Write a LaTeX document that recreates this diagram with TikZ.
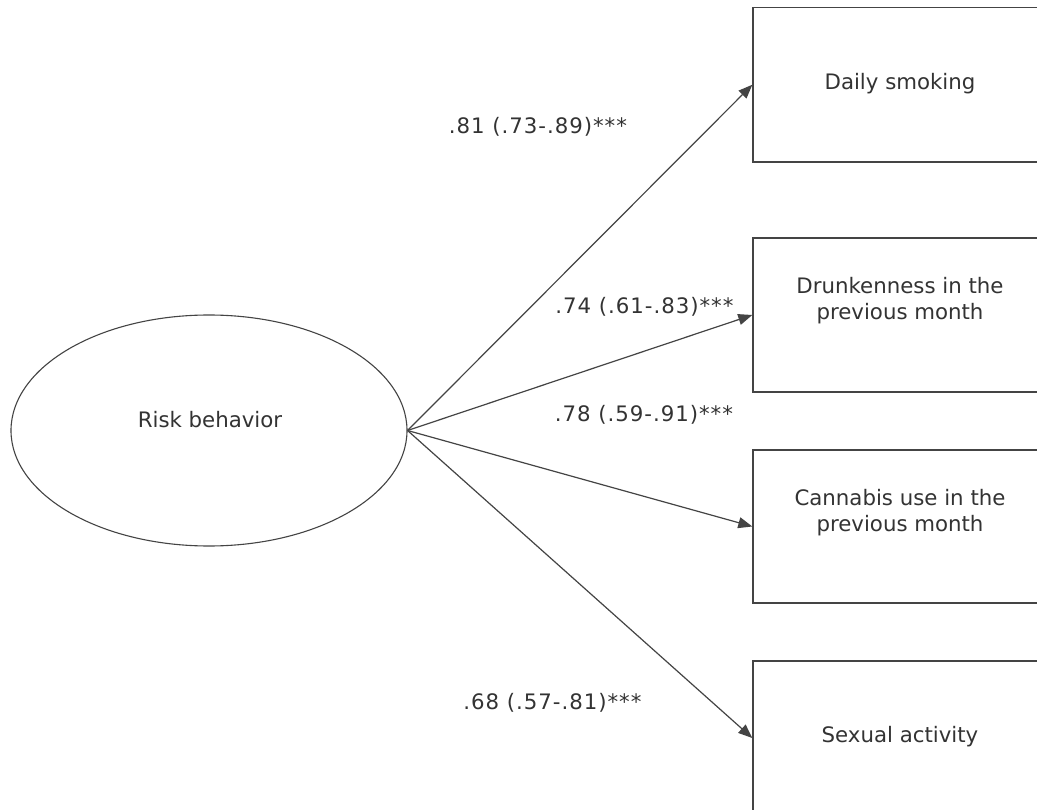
\documentclass[tikz,border=0pt]{standalone}
\usepackage{fontspec}
\setmainfont{DejaVu Sans}
\usetikzlibrary{arrows.meta,shapes.geometric}
\definecolor{ink}{HTML}{333333}
\definecolor{edgec}{HTML}{444444}
\begin{document}
\begin{tikzpicture}[x=1pt,y=-1pt,
  every node/.style={font=\fontsize{21.3}{26}\selectfont, text=ink},
  latent/.style={draw=edgec, ellipse, line width=1.1pt, minimum width=396pt, minimum height=231pt, inner sep=0pt},
  obs/.style={draw=edgec, rectangle, line width=1.4pt, minimum width=294pt, inner sep=0pt},
  txt/.style={align=center, inner sep=0pt, anchor=base},
  coef/.style={inner sep=0pt, anchor=base, font=\fontsize{21.3}{26}\selectfont\addfontfeature{LetterSpace=4.5}},
  conn/.style={draw=edgec, line width=1.2pt, -{Triangle[length=14pt,width=11pt]}}]
\useasboundingbox (0,0) rectangle (1037,810);
\clip (0,0) rectangle (1037,810);
\fill[white] (0,0) rectangle (1037,810);
\node[latent] (risk) at (209,430.5) {};
\node[obs, minimum height=154.5pt] (b1) at (900,84.75) {};
\node[obs, minimum height=154pt] (b2) at (900,315) {};
\node[obs, minimum height=153pt] (b3) at (900,526.5) {};
\node[obs, minimum height=154pt] (b4) at (900,738) {};
\node[txt] (t0) at (210,428) {Risk behavior};
\node[txt] (t1) at (900,90) {Daily smoking};
\node[txt] (t2) at (900,320) {Drunkenness in the\\previous month};
\node[txt] (t3) at (900,531) {Cannabis use in the\\previous month};
\node[txt] (t4) at (900,742) {Sexual activity};
\node[coef] (c1) at (538,134) {.81 (.73-.89)***};
\node[coef] (c2) at (644.5,314) {.74 (.61-.83)***};
\node[coef] (c3) at (644,421) {.78 (.59-.91)***};
\node[coef] (c4) at (552.5,709) {.68 (.57-.81)***};
\draw[conn] (risk.east) -- (b1.west);
\draw[conn] (risk.east) -- (b2.west);
\draw[conn] (risk.east) -- (b3.west);
\draw[conn] (risk.east) -- (b4.west);
\end{tikzpicture}
\end{document}
